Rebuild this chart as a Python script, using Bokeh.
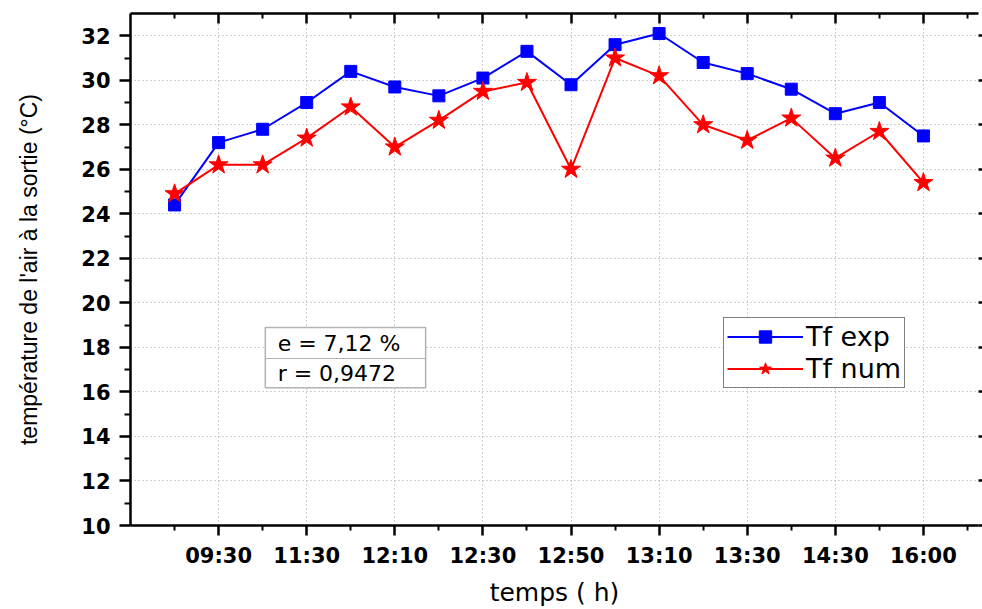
from bokeh.plotting import figure
from bokeh.models import (FixedTicker, LinearAxis, Range1d, BoxAnnotation, Label,
                          Legend, LegendItem, CustomLabelingPolicy)
from bokeh.embed import file_html
from bokeh.resources import INLINE

# Measurement index (1..18) and the time labels shown on every second point
point_index = list(range(1, 19))
label_positions = [2, 4, 6, 8, 10, 12, 14, 16, 18]
time_labels = ["09:30", "11:30", "12:10", "12:30", "12:50",
               "13:10", "13:30", "14:30", "16:00"]

# Outlet air temperature (°C)
tf_exp = [24.4, 27.2, 27.8, 29.0, 30.4, 29.7, 29.3, 30.1, 31.3,
          29.8, 31.6, 32.1, 30.8, 30.3, 29.6, 28.5, 29.0, 27.5]
tf_num = [24.9, 26.2, 26.2, 27.4, 28.8, 27.0, 28.2, 29.5, 29.9,
          26.0, 31.0, 30.2, 28.0, 27.3, 28.3, 26.5, 27.7, 25.4]

y_major = list(range(10, 33, 2))
y_minor = list(range(11, 33, 2))
x_major = label_positions
x_minor = list(range(1, 20, 2))

TICK_FONT = "DejaVu Sans"

p = figure(width=982, height=609, x_range=Range1d(0, 19.25), y_range=Range1d(10, 33),
           output_backend="svg", toolbar_location=None,
           min_border_left=130, min_border_right=4, min_border_top=13,
           min_border_bottom=84)
p.outline_line_color = None
p.background_fill_color = "white"
p.border_fill_color = "white"

# grid
p.xgrid.ticker = FixedTicker(ticks=label_positions)
p.ygrid.ticker = FixedTicker(ticks=y_major)
for g in (p.xgrid, p.ygrid):
    g.grid_line_color = "#a0a0a0"
    g.grid_line_dash = "1 3"
    g.grid_line_width = 1

# bottom axis
xa = p.xaxis[0]
xa.ticker = FixedTicker(ticks=x_major, minor_ticks=x_minor)
xa.major_label_overrides = {pos: lab for pos, lab in zip(label_positions, time_labels)}
xa.axis_label = "temps ( h)"

# left axis
ya = p.yaxis[0]
ya.ticker = FixedTicker(ticks=y_major, minor_ticks=y_minor)
ya.axis_label = "température de l'air à la sortie (°C)"

for ax in (xa, ya):
    ax.axis_line_width = 2.5
    ax.axis_line_color = "black"
    ax.major_tick_line_width = 2.5
    ax.minor_tick_line_width = 2
    ax.major_tick_in = 0
    ax.minor_tick_in = 0
    ax.major_tick_out = 11
    ax.minor_tick_out = 6
    ax.major_label_text_font = TICK_FONT
    ax.major_label_text_font_style = "bold"
    ax.major_label_text_font_size = "21px"
    ax.major_label_text_color = "black"
    ax.major_label_standoff = 9
    ax.axis_label_text_font_style = "normal"
    ax.axis_label_text_color = "black"

xa.major_tick_out = 10
xa.minor_tick_out = 5
xa.major_label_standoff = 8
xa.axis_label_text_font = "DejaVu Sans"
xa.axis_label_text_font_size = "25px"
xa.axis_label_standoff = 7

ya.axis_label_text_font = "Liberation Sans"
ya.axis_label_text_font_size = "23px"
ya.axis_label_standoff = 36

hide_labels = CustomLabelingPolicy(code="for (const i of indices) { indices.unset(i) } return indices")

# mirrored top axis: ticks pointing inward, no labels
top = LinearAxis(ticker=FixedTicker(ticks=x_major, minor_ticks=x_minor),
                 major_label_policy=hide_labels,
                 major_label_text_font_size="0px", major_label_standoff=0,
                 major_tick_in=10, major_tick_out=0, minor_tick_in=5, minor_tick_out=0,
                 axis_line_width=2.5, major_tick_line_width=2.5, minor_tick_line_width=2)
p.add_layout(top, "above")

# right axis: short outer ticks only
right = LinearAxis(ticker=FixedTicker(ticks=y_major),
                   major_label_policy=hide_labels,
                   major_label_text_font_size="0px", major_label_standoff=0,
                   major_tick_in=0, major_tick_out=4, minor_tick_in=0, minor_tick_out=0,
                   axis_line_color=None, major_tick_line_width=2.5)
p.add_layout(right, "right")

# series
l_exp = p.line(point_index, tf_exp, line_color="#0000ff", line_width=2)
s_exp = p.scatter(point_index, tf_exp, marker="square", size=12,
                  fill_color="#0000ff", line_color="#0000ff")
l_num = p.line(point_index, tf_num, line_color="#ff0000", line_width=2)
s_num = p.scatter(point_index, tf_num, marker="star", size=20,
                  fill_color="#ff0000", line_color="#ff0000")

legend = Legend(items=[LegendItem(label="Tf exp", renderers=[l_exp, s_exp]),
                       LegendItem(label="Tf num", renderers=[l_num, s_num])],
                location=(593, 137))
legend.border_line_color = "black"
legend.border_line_width = 1.5
legend.background_fill_color = "white"
legend.background_fill_alpha = 1
legend.label_text_font = "DejaVu Sans"
legend.label_text_font_size = "27px"
legend.label_text_color = "black"
legend.glyph_width = 76
legend.glyph_height = 31
legend.padding = 3
legend.spacing = 1
legend.label_standoff = 3
legend.margin = 0
p.add_layout(legend)

# statistics box
stats_box = BoxAnnotation(left=3.06, right=6.70, top=18.89, bottom=16.19,
                          fill_color="white", fill_alpha=1,
                          line_color="black", line_width=1.5)
divider = BoxAnnotation(left=3.06, right=6.70, top=17.52, bottom=17.48,
                        fill_color="#b0b0b0", fill_alpha=1, line_color=None)
p.add_layout(stats_box)
p.add_layout(divider)
for ytxt, txt in ((18.19, "e = 7,12 %"), (16.84, "r = 0,9472")):
    p.add_layout(Label(x=3.34, y=ytxt, text=txt, text_baseline="middle",
                       text_font="DejaVu Sans", text_font_size="22px",
                       text_color="black"))

open("out.html", "w").write(file_html(p, INLINE))
